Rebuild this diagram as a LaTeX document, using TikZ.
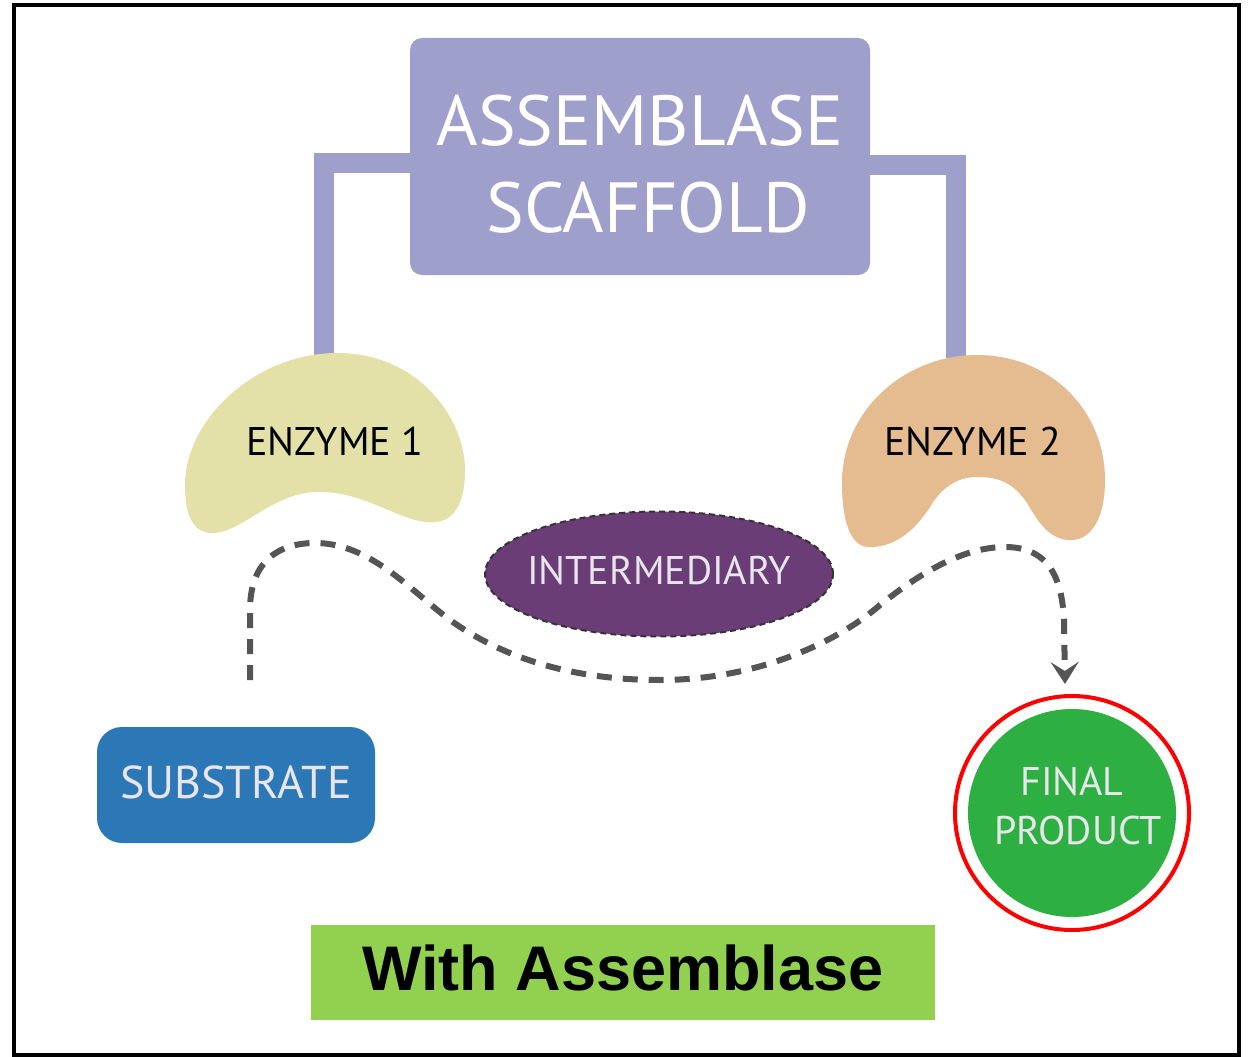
\documentclass[tikz,border=0pt]{standalone}
\usepackage{fontspec}
\setmainfont{PT Sans}
\newfontfamily\arialfont{Liberation Sans}
\usetikzlibrary{arrows.meta,shapes.geometric}
\definecolor{scaf}{HTML}{9F9FCC}
\definecolor{enzA}{HTML}{E3E1A8}
\definecolor{enzB}{HTML}{E5BB90}
\definecolor{interm}{HTML}{6A3D76}
\definecolor{subst}{HTML}{2C78B6}
\definecolor{finalg}{HTML}{2DB041}
\definecolor{labelg}{HTML}{92D050}
\definecolor{pathgray}{HTML}{555555}
\definecolor{lighttext}{HTML}{E8E6EC}
\tikzset{
  txt/.style={inner sep=0pt, anchor=base},
  bracket/.style={draw=scaf, line width=20pt, line join=miter, line cap=butt},
  flow/.style={draw=pathgray, line width=6pt, dash pattern=on 15pt off 11pt,
    -{Stealth[length=22pt,width=28pt,inset=9pt]}},
}
\begin{document}
\begin{tikzpicture}[x=1pt,y=-1pt]
\useasboundingbox (0,0) rectangle (1248,1057);
\fill[white] (0,0) rectangle (1248,1057);
\draw[line width=4pt] (14,5) rectangle (1239,1055);

% scaffold
\node[fill=scaf, rounded corners=12pt, minimum width=460pt, minimum height=237pt, inner sep=0pt] (scaffold) at (640,156.5) {};
\coordinate (e1top) at (324,356);
\coordinate (e2top) at (956,358);
\draw[bracket] (e1top) |- (scaffold.west |- 0,163);
\draw[bracket] (e2top) |- (scaffold.east |- 0,165);
\node[txt, white, font=\fontsize{71}{80}\selectfont] (t1) at (640,145) {ASSEMBLASE};
\node[txt, white, font=\fontsize{71}{80}\selectfont] (t2) at (648,232) {SCAFFOLD};

% enzyme 1
\fill[enzA] (337,353) .. controls (420,353) and (465,420) .. (465,470)
  .. controls (465,510) and (450,525) .. (425,522)
  .. controls (395,518) and (360,490) .. (315,492)
  .. controls (270,494) and (240,535) .. (210,533)
  .. controls (190,531) and (185,510) .. (185,485)
  .. controls (185,420) and (255,353) .. (337,353) -- cycle;
\node[txt, font=\fontsize{40}{48}\selectfont] (enz1) at (335,455) {ENZYME 1};

% enzyme 2
\fill[enzB] (977,355) .. controls (1050,355) and (1105,410) .. (1105,480)
  .. controls (1105,520) and (1090,542) .. (1068,540)
  .. controls (1045,538) and (1035,515) .. (1025,500)
  .. controls (1010,480) and (995,477) .. (977,477)
  .. controls (955,477) and (940,490) .. (930,507)
  .. controls (915,530) and (895,548) .. (868,547)
  .. controls (850,546) and (842,520) .. (842,483)
  .. controls (842,410) and (905,355) .. (977,355) -- cycle;
\node[txt, font=\fontsize{40}{48}\selectfont] (enz2) at (973,455) {ENZYME 2};

% intermediary
\node[ellipse, fill=interm, draw=black!80, line width=2pt, dash pattern=on 6pt off 4pt,
  minimum width=348pt, minimum height=125pt, inner sep=0pt] (inter) at (659,574) {};
\node[txt, lighttext, font=\fontsize{40}{48}\selectfont] (intertxt) at (659,584) {INTERMEDIARY};

% substrate
\node[fill=subst, rounded corners=25pt, minimum width=278pt, minimum height=116pt, inner sep=0pt] (sub) at (236,785) {};
\node[txt, lighttext, font=\fontsize{46}{52}\selectfont] (subtxt) at (236,798) {SUBSTRATE};

% final product
\node[circle, fill=finalg, minimum size=208pt, inner sep=0pt] (fp) at (1072,813) {};
\draw[red, line width=4pt] (fp.center) circle (117pt);
\node[txt, lighttext, font=\fontsize{40}{48}\selectfont] (fp1) at (1072,795) {FINAL};
\node[txt, lighttext, font=\fontsize{40}{48}\selectfont] (fp2) at (1078,844) {PRODUCT};

% flow path
\coordinate (dstart) at (250,680);
\coordinate (dend) at (1065,684);
\draw[flow] (dstart) -- (250,610) .. controls (250,560) and (280,543) .. (315,543)
  .. controls (370,543) and (410,590) .. (450,620)
  .. controls (520,670) and (600,680) .. (660,680)
  .. controls (760,680) and (840,640) .. (880,605)
  .. controls (930,565) and (970,547) .. (1005,547)
  .. controls (1050,547) and (1062,580) .. (1064,620) -- (dend);

% caption
\node[fill=labelg, minimum width=624pt, minimum height=95pt, inner sep=0pt] (cap) at (623,972.5) {};
\node[txt, font=\arialfont\bfseries\fontsize{63}{70}\selectfont] (captxt) at (623,990) {With Assemblase};
\end{tikzpicture}
\end{document}
